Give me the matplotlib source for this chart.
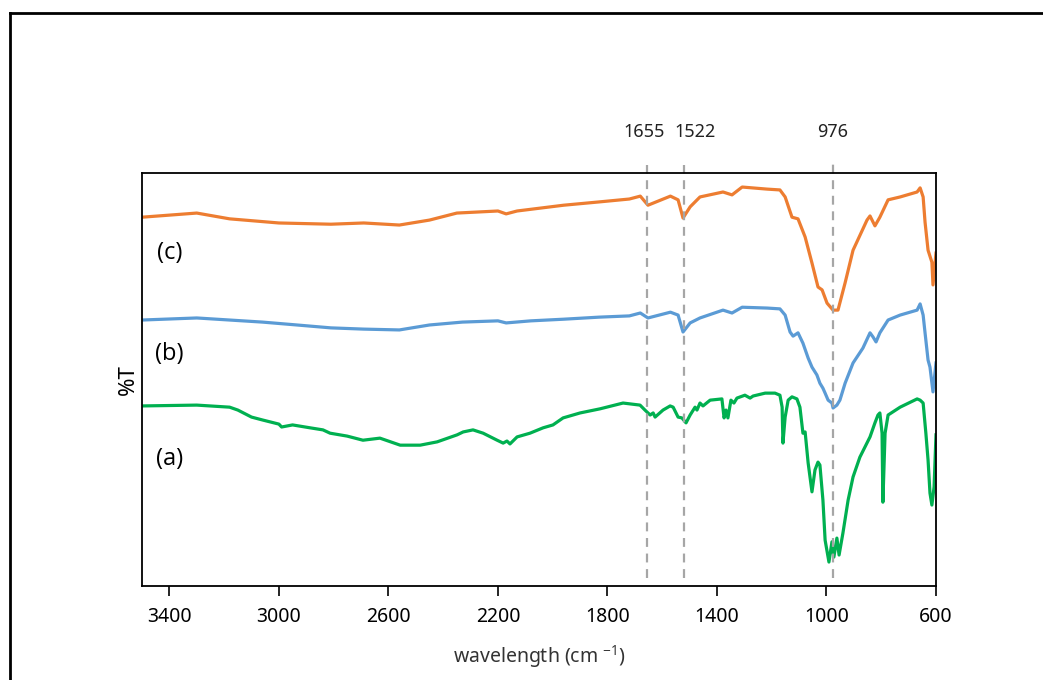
import matplotlib
matplotlib.use("Agg")
import matplotlib.pyplot as plt
from matplotlib.lines import Line2D

plt.rcParams["font.family"] = ["Noto Sans", "DejaVu Sans"]

# ---------------------------------------------------------------------------
# FTIR spectra (wavenumber in cm-1, transmittance in arbitrary stacked units)
# ---------------------------------------------------------------------------
c_wn = [3500, 3300, 3180, 3000, 2810, 2690, 2560, 2450, 2350, 2200, 2170, 2130,
        1960, 1830, 1720, 1680, 1652, 1570, 1542, 1524, 1498, 1462, 1378, 1345,
        1308, 1217, 1170, 1151, 1126, 1104, 1078, 1053, 1031, 1016, 998, 976,
        958, 932, 903, 852, 841, 823, 805, 775, 731, 669, 658, 647, 640, 629,
        615, 611, 600]
c_t = [89.3, 90.3, 88.9, 87.9, 87.6, 87.9, 87.4, 88.6, 90.3, 90.8, 90.1, 90.8,
       92.2, 93.0, 93.7, 94.4, 92.2, 94.4, 93.5, 89.1, 91.8, 94.2, 95.4, 94.7,
       96.6, 96.1, 95.9, 94.2, 89.3, 88.9, 84.5, 78.2, 72.4, 71.7, 68.5, 66.8,
       66.8, 73.4, 81.3, 88.6, 89.6, 87.2, 89.3, 93.5, 94.2, 95.4, 96.4, 94.2,
       88.1, 81.3, 78.4, 72.9, 80.6]

b_wn = [3500, 3300, 3060, 2934, 2810, 2690, 2560, 2450, 2330, 2200, 2170, 2080,
        1960, 1830, 1720, 1680, 1652, 1570, 1542, 1524, 1498, 1462, 1378, 1345,
        1308, 1217, 1170, 1151, 1133, 1122, 1104, 1086, 1067, 1053, 1035, 1024,
        1013, 1005, 994, 980, 976, 962, 951, 932, 903, 867, 841, 830, 819, 805,
        775, 731, 669, 658, 647, 640, 629, 622, 611, 600]
b_t = [64.4, 64.9, 63.9, 63.2, 62.5, 62.2, 62.0, 63.2, 63.9, 64.2, 63.7, 64.2,
       64.6, 65.1, 65.4, 66.1, 64.9, 66.3, 65.6, 61.5, 63.7, 64.9, 66.8, 66.1,
       67.5, 67.3, 67.1, 65.6, 61.5, 60.5, 61.3, 58.8, 55.2, 53.0, 51.1, 49.1,
       47.9, 46.7, 45.0, 44.3, 43.1, 43.8, 45.0, 49.1, 54.0, 57.6, 61.3, 60.3,
       59.1, 61.3, 64.4, 65.6, 66.8, 68.3, 65.6, 61.3, 54.7, 53.0, 47.0, 54.0]

a_wn = [3500, 3300, 3180, 3150, 3100, 3060, 3000, 2990, 2950, 2886, 2839, 2813,
        2751, 2693, 2631, 2557, 2484, 2422, 2349, 2327, 2291, 2254, 2203, 2181,
        2167, 2156, 2130, 2083, 2035, 1999, 1962, 1900, 1827, 1743, 1681, 1663,
        1644, 1633, 1626, 1597, 1571, 1560, 1542, 1528, 1513, 1498, 1480, 1473,
        1462, 1451, 1425, 1382, 1374, 1367, 1360, 1349, 1338, 1327, 1298, 1279,
        1268, 1224, 1188, 1170, 1162, 1159, 1151, 1140, 1126, 1108, 1097, 1086,
        1078, 1067, 1053, 1042, 1031, 1024, 1013, 1005, 991, 980, 973, 962, 954,
        940, 921, 903, 878, 841, 823, 812, 805, 797, 794, 786, 775, 731, 669,
        658, 647, 637, 629, 622, 615, 607, 600]
a_t = [43.6, 43.8, 43.3, 42.6, 40.9, 40.2, 39.2, 38.5, 39.0, 38.3, 37.8, 37.0,
       36.3, 35.3, 35.8, 34.1, 34.1, 34.9, 36.6, 37.3, 37.8, 37.0, 35.3, 34.6,
       35.1, 34.4, 36.1, 37.0, 38.3, 39.0, 40.7, 41.9, 42.9, 44.3, 43.8, 42.6,
       41.4, 41.9, 40.9, 42.6, 43.6, 43.3, 40.9, 40.7, 39.5, 41.4, 43.3, 42.6,
       44.3, 43.6, 45.0, 45.3, 40.7, 42.6, 40.7, 45.0, 44.3, 45.5, 46.2, 45.5,
       46.0, 46.7, 46.7, 46.2, 43.3, 34.6, 40.9, 45.0, 45.8, 45.3, 43.3, 37.0,
       37.3, 29.8, 22.8, 28.1, 30.0, 29.3, 20.8, 11.1, 5.8, 10.7, 7.0, 11.6, 7.5,
       12.8, 20.8, 26.4, 31.2, 36.1, 39.5, 41.4, 41.9, 37.0, 20.3, 37.0, 41.4,
       43.3, 45.3, 45.0, 44.3, 37.0, 30.5, 22.5, 19.6, 24.0, 36.6]

series_labels = ["(a)", "(b)", "(c)"]
label_y = [30.7, 56.2, 80.6]
peak_wn = [1655, 1522, 976]
x_ticks = [3400, 3000, 2600, 2200, 1800, 1400, 1000, 600]

# ---------------------------------------------------------------------------
# figure
# ---------------------------------------------------------------------------
fig = plt.figure(figsize=(10.43, 6.80), dpi=100)
ax = fig.add_axes([142 / 1043, 1 - 586 / 680, 794 / 1043, 413 / 680])

ax.plot(a_wn, a_t, color="#00B050", lw=2.3, solid_joinstyle="round")
ax.plot(b_wn, b_t, color="#5B9BD5", lw=2.3, solid_joinstyle="round")
ax.plot(c_wn, c_t, color="#ED7D31", lw=2.3, solid_joinstyle="round")

ax.set_xlim(3500, 600)
ax.set_ylim(0, 100)
ax.set_xticks(x_ticks)
ax.set_yticks([])
ax.tick_params(axis="x", direction="out", length=7, width=1.2,
               labelsize=14, pad=8)
for sp in ax.spines.values():
    sp.set_linewidth(1.3)

ax.set_xlabel("wavelength (cm $^{\\mathregular{-1}}$)", fontsize=14,
              color="#333333", labelpad=12)
ax.set_ylabel("%T", fontsize=16, labelpad=2)

for lab, y in zip(series_labels, label_y):
    ax.text(3400, y, lab, fontsize=17, ha="center", va="center",
            family=["Open Sans", "DejaVu Sans"])

# peak markers reaching above the plot frame
trans = ax.get_xaxis_transform()
line_top = [1.02, 1.02, 1.03]
label_dx = [-2, 8, 0]
for wn, top, dx in zip(peak_wn, line_top, label_dx):
    ax.vlines(wn, 0.02, top, transform=trans, colors="#A6A6A6",
              linestyles=(0, (4, 3)), lw=1.6, clip_on=False)
    ax.annotate(str(wn), xy=(wn, 1.10), xycoords=trans,
                xytext=(dx, 0), textcoords="offset points",
                ha="center", va="center", fontsize=13, color="#222222",
                annotation_clip=False)

# page frame around the chart
fig.add_artist(Line2D([10 / 1043, 10 / 1043], [0, 1 - 13 / 680],
                      transform=fig.transFigure, color="black", lw=2))
fig.add_artist(Line2D([10 / 1043, 1], [1 - 13 / 680, 1 - 13 / 680],
                      transform=fig.transFigure, color="black", lw=2))

fig.savefig("out.png", dpi=100)
